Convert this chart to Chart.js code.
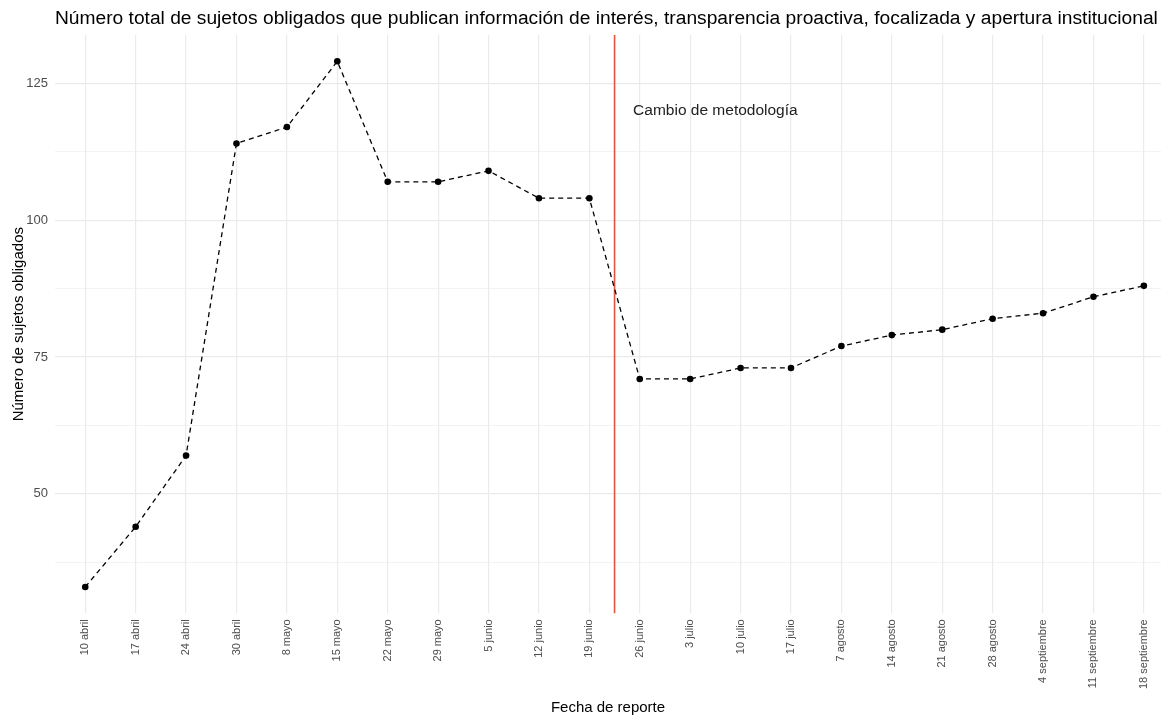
<html>
<head>
	<script src="https://cdn.jsdelivr.net/npm/chart.js@4/dist/chart.umd.min.js"></script>
	<style>
		body { margin: 0; background: #fff; }
	</style>
</head>
<body>
	<div style="width: 1165px; height: 717px">
		<canvas id="myChart"></canvas>
	</div>
</body>
<script>

const fechas = ['10 abril', '17 abril', '24 abril', '30 abril', '8 mayo', '15 mayo', '22 mayo', '29 mayo',
  '5 junio', '12 junio', '19 junio', '26 junio', '3 julio', '10 julio', '17 julio', '7 agosto',
  '14 agosto', '21 agosto', '28 agosto', '4 septiembre', '11 septiembre', '18 septiembre'];
const sujetos = [33, 44, 57, 114, 117, 129, 107, 107, 109, 104, 104, 71, 71, 73, 73, 77, 79, 80, 82, 83, 86, 88];
const yTicks = [37.5, 50, 62.5, 75, 87.5, 100, 112.5, 125];

// the change in methodology falls between 19 junio and 26 junio
const cambioPos = 10.5;
const cambioTexto = 'Cambio de metodología';
const cambioTextoPos = { x: 12.5, y: 120 };

const lo = Math.min(...sujetos), hi = Math.max(...sujetos);
const pad = (hi - lo) * 0.05;

const FONT = '"Liberation Sans", Arial, sans-serif';
const GRID = '#ebebeb';

const metodologia = {
  id: 'metodologia',
  beforeDatasetsDraw(chart) {
    const ctx = chart.ctx, area = chart.chartArea;
    const x = chart.scales.x.getPixelForValue(cambioPos);
    ctx.save();
    ctx.strokeStyle = '#e3553f';
    ctx.lineWidth = 1.6;
    ctx.beginPath();
    ctx.moveTo(x, area.top);
    ctx.lineTo(x, area.bottom);
    ctx.stroke();
    ctx.fillStyle = '#222';
    ctx.font = '15.5px ' + FONT;
    ctx.textAlign = 'center';
    ctx.textBaseline = 'middle';
    ctx.fillText(cambioTexto, chart.scales.x.getPixelForValue(cambioTextoPos.x),
      chart.scales.y.getPixelForValue(cambioTextoPos.y));
    ctx.restore();
  }
};

const data = {
  datasets: [
    {
      label: 'Sujetos obligados',
      data: sujetos.map((v, i) => ({ x: i, y: v })),
      borderColor: '#000',
      backgroundColor: '#000',
      borderWidth: 1.3,
      borderDash: [5, 4],
      pointRadius: 3.3,
      pointBorderWidth: 0,
      tension: 0
    }
  ]
};

const config = {
  type: 'line',
  data: data,
  options: {
    maintainAspectRatio: false,
    responsive: true,
    animation: false,
    layout: { padding: { left: 0, right: 0, bottom: 0, top: 0 } },
    plugins: {
      legend: { display: false },
      tooltip: { enabled: false },
      title: {
        display: true,
        text: 'Número total de sujetos obligados que publican información de interés, transparencia proactiva, focalizada y apertura institucional',
        align: 'start',
        fullSize: false,
        color: '#000',
        font: { family: FONT, size: 19.2, weight: 'normal' },
        padding: { top: 7, bottom: 5 }
      }
    },
    scales: {
      x: {
        type: 'linear',
        min: -0.6,
        max: 21.34, // the right edge of the panel is cut off in the reference
        afterBuildTicks: axis => { axis.ticks = fechas.map((f, i) => ({ value: i })); },
        grid: { color: GRID, lineWidth: 1.2, drawTicks: false },
        border: { display: false },
        ticks: {
          callback: v => fechas[v],
          color: '#4d4d4d',
          font: { family: FONT, size: 11 },
          minRotation: 90,
          maxRotation: 90,
          padding: 6
        },
        title: {
          display: true,
          text: 'Fecha de reporte',
          color: '#000',
          font: { family: FONT, size: 15 },
          padding: { top: 4, bottom: 0 }
        }
      },
      y: {
        min: lo - pad,
        max: hi + pad,
        afterBuildTicks: axis => { axis.ticks = yTicks.map(v => ({ value: v })); },
        afterFit: axis => { axis.width = 55; },
        grid: {
          color: GRID,
          lineWidth: c => (c.tick && c.tick.value % 25 === 0 ? 1.2 : 0.6),
          drawTicks: false
        },
        border: { display: false },
        ticks: {
          callback: v => (v % 25 === 0 ? v : ''),
          color: '#4d4d4d',
          font: { family: FONT, size: 13 },
          padding: 7
        },
        title: {
          display: true,
          text: 'Número de sujetos obligados',
          color: '#000',
          font: { family: FONT, size: 15 },
          padding: { top: 10, bottom: 0 }
        }
      }
    }
  },
  plugins: [metodologia]
};

var ctx = document.getElementById('myChart');
var myChart = new Chart(ctx, config);

</script>
</html>
